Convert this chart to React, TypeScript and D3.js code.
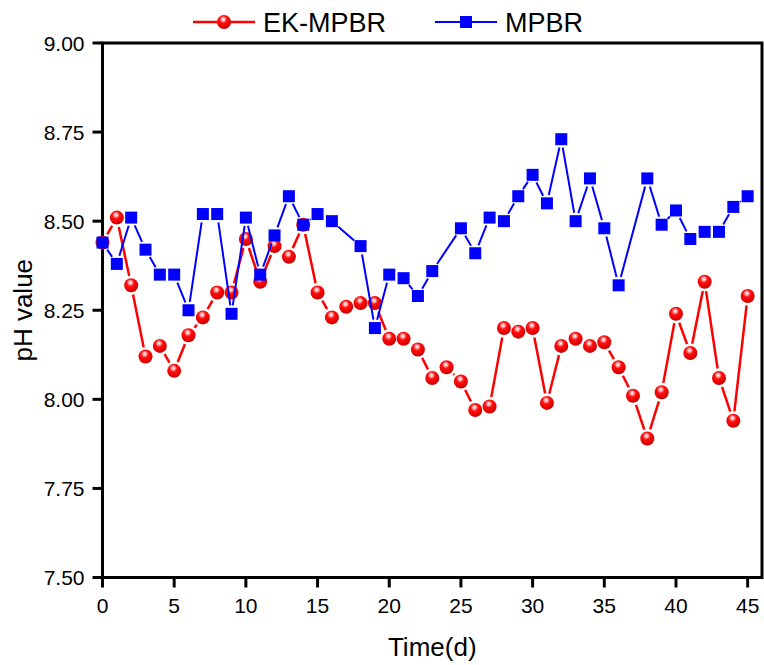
import React from "react";
import * as d3 from "d3";

const days = [0,1,2,3,4,5,6,7,8,9,10,11,12,13,14,15,16,17,18,19,20,21,22,23,24,25,26,27,28,29,30,31,32,33,34,35,36,37,38,39,40,41,42,43,44,45];
const ekMpbr = [8.44,8.51,8.32,8.12,8.15,8.08,8.18,8.23,8.30,8.30,8.45,8.33,8.43,8.40,8.49,8.30,8.23,8.26,8.27,8.27,8.17,8.17,8.14,8.06,8.09,8.05,7.97,7.98,8.20,8.19,8.20,7.99,8.15,8.17,8.15,8.16,8.09,8.01,7.89,8.02,8.24,8.13,8.33,8.06,7.94,8.29];
const mpbr: (number | null)[] = [8.44,8.38,8.51,8.42,8.35,8.35,8.25,8.52,8.52,8.24,8.51,8.35,8.46,8.57,8.49,8.52,8.50,null,8.43,8.20,8.35,8.34,8.29,8.36,null,8.48,8.41,8.51,8.50,8.57,8.63,8.55,8.73,8.50,8.62,8.48,8.32,null,8.62,8.49,8.53,8.45,8.47,8.47,8.54,8.57];
const yTicks = [7.5,7.75,8.0,8.25,8.5,8.75,9.0];
const xTicks = [0,5,10,15,20,25,30,35,40,45];
const seriesNames = ["EK-MPBR","MPBR"];

const W = 764, H = 665;
const left = 102.5, right = 762, top = 43, bottom = 577.5;
const FONT = "Arial, 'Liberation Sans', sans-serif";

function segments(pts: [number, number][], gap: number) {
  const out: string[] = [];
  for (let i = 0; i < pts.length - 1; i++) {
    const [x1, y1] = pts[i];
    const [x2, y2] = pts[i + 1];
    const dx = x2 - x1, dy = y2 - y1;
    const len = Math.hypot(dx, dy);
    if (len <= 2 * gap) continue;
    const ux = dx / len, uy = dy / len;
    out.push(`M${x1 + ux * gap},${y1 + uy * gap}L${x2 - ux * gap},${y2 - uy * gap}`);
  }
  return out.join("");
}

export default function App() {
  const x = d3.scaleLinear().domain([0, 46]).range([left, right]);
  const y = d3.scaleLinear().domain([7.5, 9.0]).range([bottom, top]);

  const redPts: [number, number][] = days.map((d, i) => [x(d), y(ekMpbr[i])]);
  const bluePts: [number, number][] = days
    .map((d, i) => (mpbr[i] == null ? null : [x(d), y(mpbr[i] as number)]))
    .filter((p) => p != null) as [number, number][];

  const sq = 12;
  const r = 7;

  return (
    <svg width={W} height={H} style={{ position: "absolute", left: 0, top: 0 }} fontFamily={FONT}>
      <defs>
        <radialGradient id="ball" cx="0.42" cy="0.35" r="0.65" fx="0.45" fy="0.3">
          <stop offset="0%" stopColor="#ffffff" />
          <stop offset="18%" stopColor="#ffb0b0" />
          <stop offset="40%" stopColor="#ff1010" />
          <stop offset="85%" stopColor="#e00000" />
          <stop offset="100%" stopColor="#b00000" />
        </radialGradient>
      </defs>
      <rect width={W} height={H} fill="#fff" />

      {/* frame */}
      <rect x={left} y={top} width={right - left} height={bottom - top} fill="none" stroke="#000" strokeWidth={3} />

      {/* y ticks */}
      {yTicks.map((t) => (
        <g key={"y" + t}>
          <line x1={left - 10} x2={left} y1={y(t)} y2={y(t)} stroke="#000" strokeWidth={3} />
          <text x={left - 18} y={y(t)} dy="0.36em" textAnchor="end" fontSize={21} fill="#000">
            {d3.format(".2f")(t)}
          </text>
        </g>
      ))}
      {/* x ticks */}
      {xTicks.map((t) => (
        <g key={"x" + t}>
          <line x1={x(t)} x2={x(t)} y1={bottom} y2={bottom + 10} stroke="#000" strokeWidth={3} />
          <text x={x(t)} y={613} textAnchor="middle" fontSize={21} fill="#000">
            {t}
          </text>
        </g>
      ))}

      {/* axis titles */}
      <text x={(left + right) / 2} y={656} textAnchor="middle" fontSize={26} fill="#000">Time(d)</text>
      <text transform={`translate(32,${(top + bottom) / 2}) rotate(-90)`} textAnchor="middle" fontSize={26} fill="#000">pH value</text>

      {/* red series */}
      <path d={segments(redPts, r + 2.5)} stroke="#ff0000" strokeWidth={2.5} fill="none" />
      {redPts.map(([px, py], i) => (
        <circle key={"r" + i} cx={px} cy={py} r={r} fill="url(#ball)" />
      ))}

      {/* blue series */}
      <path d={segments(bluePts, sq / 2 + 2.5)} stroke="#0000ff" strokeWidth={2} fill="none" />
      {bluePts.map(([px, py], i) => (
        <rect key={"b" + i} x={px - sq / 2} y={py - sq / 2} width={sq} height={sq} fill="#0000ff" />
      ))}

      {/* legend */}
      <g>
        <line x1={193} x2={255} y1={22} y2={22} stroke="#ff0000" strokeWidth={2.5} />
        <circle cx={224} cy={22} r={7} fill="url(#ball)" />
        <text x={263} y={32} fontSize={27} fill="#000">{seriesNames[0]}</text>
        <line x1={435} x2={497} y1={22} y2={22} stroke="#0000ff" strokeWidth={2} />
        <rect x={466 - 6} y={22 - 6} width={12} height={12} fill="#0000ff" />
        <text x={505} y={32} fontSize={27} fill="#000">{seriesNames[1]}</text>
      </g>
    </svg>
  );
}
